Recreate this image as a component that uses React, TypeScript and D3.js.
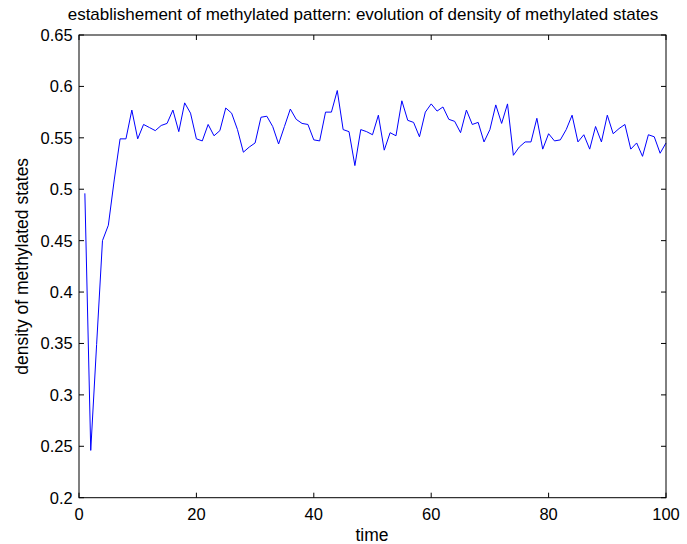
import React from "react";
import * as d3 from "d3";

const timeSteps: number[] = Array.from({ length: 100 }, (_, i) => i + 1);
const density: number[] = [
  0.496, 0.246, 0.349, 0.450, 0.465, 0.509, 0.549, 0.549, 0.577, 0.549,
  0.563, 0.560, 0.557, 0.562, 0.564, 0.577, 0.556, 0.584, 0.574, 0.549,
  0.547, 0.563, 0.552, 0.557, 0.579, 0.574, 0.558, 0.536, 0.541, 0.545,
  0.570, 0.571, 0.561, 0.544, 0.561, 0.578, 0.568, 0.564, 0.563, 0.548,
  0.547, 0.575, 0.575, 0.596, 0.558, 0.556, 0.523, 0.558, 0.556, 0.553,
  0.572, 0.538, 0.555, 0.552, 0.586, 0.567, 0.565, 0.551, 0.575, 0.583,
  0.576, 0.580, 0.568, 0.566, 0.555, 0.577, 0.563, 0.565, 0.546, 0.558,
  0.582, 0.564, 0.583, 0.533, 0.541, 0.546, 0.546, 0.569, 0.539, 0.554,
  0.547, 0.548, 0.558, 0.572, 0.546, 0.553, 0.539, 0.561, 0.546, 0.572,
  0.554, 0.559, 0.563, 0.539, 0.545, 0.532, 0.553, 0.551, 0.535, 0.545,
];
const xTicks: number[] = [0, 20, 40, 60, 80, 100];
const yTicks: number[] = [0.2, 0.25, 0.3, 0.35, 0.4, 0.45, 0.5, 0.55, 0.6, 0.65];

const W = 687;
const H = 544;
const left = 79;
const right = 666;
const top = 35;
const bottom = 497.7;
const font = "'Liberation Sans', Arial, Helvetica, sans-serif";

export default function App() {
  const x = d3.scaleLinear().domain([0, 100]).range([left, right]);
  const y = d3.scaleLinear().domain([0.2, 0.65]).range([bottom, top]);
  const line = d3
    .line<number>()
    .x((_, i) => x(timeSteps[i]))
    .y((d) => y(d));
  const tl = 5;
  return (
    <svg
      width={W}
      height={H}
      style={{ position: "absolute", left: 0, top: 0, background: "#fff" }}
    >
      <rect x={0} y={0} width={W} height={H} fill="#fff" />
      <path d={line(density) || ""} fill="none" stroke="#0000ff" strokeWidth={1} />
      {xTicks.map((t) => (
        <g key={"x" + t}>
          <line x1={x(t)} x2={x(t)} y1={bottom} y2={bottom - tl} stroke="#000" strokeWidth={1} />
          <line x1={x(t)} x2={x(t)} y1={top} y2={top + tl} stroke="#000" strokeWidth={1} />
          <text
            x={x(t)}
            y={520}
            textAnchor="middle"
            fontFamily={font}
            fontSize={16.5}
            fill="#000"
          >
            {t}
          </text>
        </g>
      ))}
      {yTicks.map((t) => (
        <g key={"y" + t}>
          <line x1={left} x2={left + tl} y1={y(t)} y2={y(t)} stroke="#000" strokeWidth={1} />
          <line x1={right} x2={right - tl} y1={y(t)} y2={y(t)} stroke="#000" strokeWidth={1} />
          <text
            x={72.7}
            y={y(t)}
            dy="0.36em"
            textAnchor="end"
            fontFamily={font}
            fontSize={16.5}
            fill="#000"
          >
            {String(Number(t.toFixed(2)))}
          </text>
        </g>
      ))}
      <rect
        x={left}
        y={top}
        width={right - left}
        height={bottom - top}
        fill="none"
        stroke="#000"
        strokeWidth={1}
      />
      <text
        x={363}
        y={19.5}
        textAnchor="middle"
        fontFamily={font}
        fontSize={17}
        fill="#000"
      >
        establishement of methylated pattern: evolution of density of methylated states
      </text>
      <text
        x={372}
        y={541}
        textAnchor="middle"
        fontFamily={font}
        fontSize={17.5}
        fill="#000"
      >
        time
      </text>
      <text
        transform={`translate(28, ${(top + bottom) / 2}) rotate(-90)`}
        textAnchor="middle"
        fontFamily={font}
        fontSize={17.5}
        fill="#000"
      >
        density of methylated states
      </text>
    </svg>
  );
}
